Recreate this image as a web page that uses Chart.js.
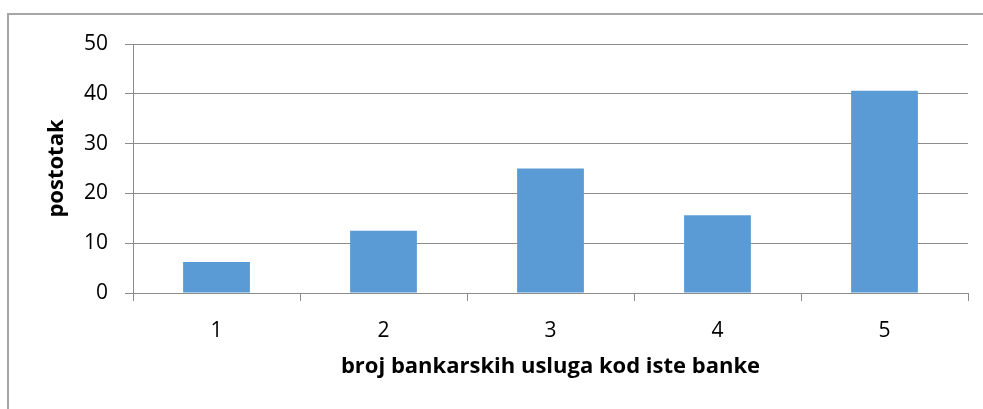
<!DOCTYPE html>
<html>
<head>
<meta charset="utf-8">
<script src="https://cdn.jsdelivr.net/npm/chart.js@4"></script>
<style>
  html, body { margin: 0; padding: 0; background: #fff; }
  #wrap { position: relative; width: 983px; height: 409px; }
  #frame {
    position: absolute; left: 7px; top: 13px; right: -2px; bottom: -2px;
    border-top: 2px solid #a6a6a6; border-left: 2px solid #a6a6a6;
  }
  #chart { position: absolute; left: 0; top: 0; }
</style>
</head>
<body>
<div id="wrap">
  <div id="frame"></div>
  <canvas id="chart" width="983" height="409"></canvas>
</div>
<script>
// broj usluga -> postotak ispitanika
const categories = ['1', '2', '3', '4', '5'];
const percentages = [6.25, 12.5, 25, 15.6, 40.6];
const yTicks = [0, 10, 20, 30, 40, 50];

const gridColor = '#8c8c8c';
const fontFamily = '"Open Sans", "Noto Sans", sans-serif';

const ctx = document.getElementById('chart').getContext('2d');
new Chart(ctx, {
    type: 'bar',
    data: {
        labels: categories,
        datasets: [{
            label: 'postotak',
            data: percentages,
            backgroundColor: '#5b9bd5',
            borderWidth: 0,
            categoryPercentage: 0.4,
            barPercentage: 1.0
        }]
    },
    options: {
        responsive: false,
        animation: false,
        layout: { padding: { left: 0, right: 15, top: 44, bottom: 0 } },
        plugins: {
            legend: { display: false },
            tooltip: { enabled: false }
        },
        scales: {
            x: {
                offset: true,
                grid: {
                    offset: true,
                    drawOnChartArea: false,
                    drawTicks: true,
                    tickLength: 8,
                    color: gridColor,
                    lineWidth: 1
                },
                border: { display: true, color: gridColor, width: 1 },
                ticks: {
                    color: '#000',
                    padding: 17,
                    font: { family: fontFamily, size: 21 }
                },
                title: {
                    display: true,
                    text: 'broj bankarskih usluga kod iste banke',
                    color: '#000',
                    padding: { top: 0, bottom: 29 },
                    font: { family: fontFamily, size: 22, weight: 'bold' }
                },
                afterFit: (scale) => { scale.height = 116; }
            },
            y: {
                min: 0,
                max: 50,
                afterBuildTicks: (scale) => {
                    scale.ticks = yTicks.map(v => ({ value: v }));
                },
                grid: {
                    color: gridColor,
                    lineWidth: 1,
                    tickLength: 8
                },
                border: { display: true, color: gridColor, width: 1 },
                ticks: {
                    color: '#000',
                    padding: 17,
                    font: { family: fontFamily, size: 21 }
                },
                title: {
                    display: true,
                    text: 'postotak',
                    color: '#000',
                    padding: { top: 44, bottom: 0 },
                    font: { family: fontFamily, size: 22, weight: 'bold' }
                },
                afterFit: (scale) => { scale.width = 133; }
            }
        }
    }
});
</script>
</body>
</html>
